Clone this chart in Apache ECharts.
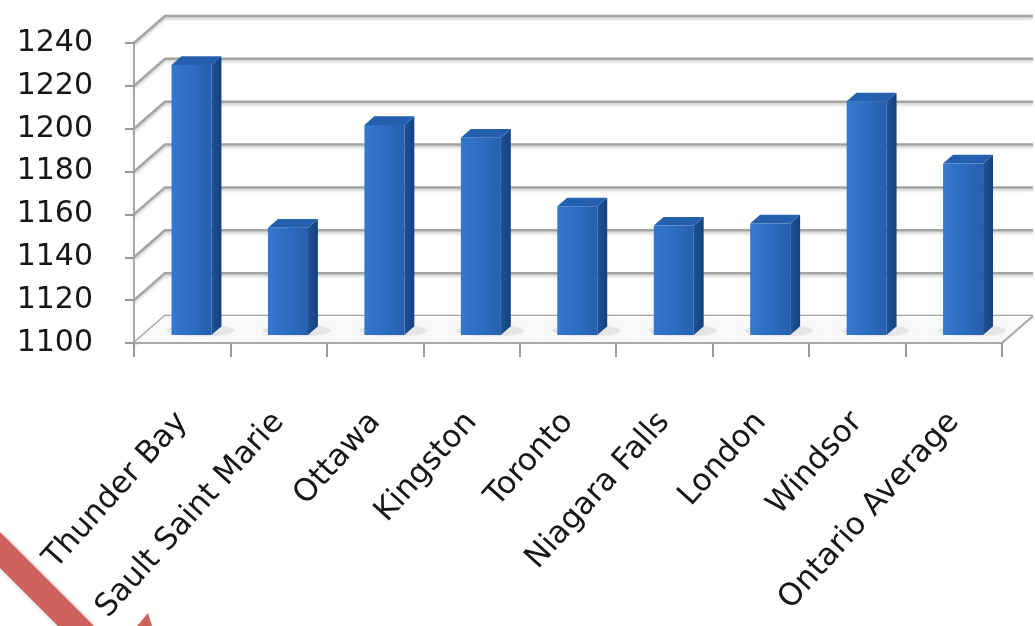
<!DOCTYPE html>
<html>
<head>
<meta charset="utf-8">
<script src="https://cdn.jsdelivr.net/npm/echarts@6/dist/echarts.min.js"></script>
<style>html,body{margin:0;padding:0;background:#fff}#c{width:1035px;height:626px}</style>
</head>
<body>
<div id="c"></div>
<script>
const categories = ['Thunder Bay','Sault Saint Marie','Ottawa','Kingston','Toronto','Niagara Falls','London','Windsor','Ontario Average'];
const values = [1226, 1150, 1198, 1192, 1160, 1151, 1152, 1209, 1180];
const yMin = 1100, yMax = 1240, yStep = 20;
const yTicks = [1100, 1120, 1140, 1160, 1180, 1200, 1220, 1240];

// depth vector of the 3D box (pixels) and bar depth placement
const DX = 31, DY = -27;
const D1 = 0.30, D2 = 0.62, BARW = 0.415;
const FONT = 'DejaVu Sans';

const chart = echarts.init(document.getElementById('c'), null, {renderer:'canvas'});

function wallItem(params, api) {
  const cs = params.coordSys;
  const y = api.coord([0, api.value(1)])[1];
  const x0 = cs.x, x1 = cs.x + cs.width;
  return {
    type: 'polyline',
    shape: { points: [[x0, y], [x0 + DX, y + DY], [x1 + DX, y + DY]] },
    style: { stroke: '#a4a4a4', lineWidth: 2.5, fill: null,
             shadowBlur: 3, shadowColor: 'rgba(0,0,0,0.22)', shadowOffsetY: 2 }
  };
}

function floorItem(params, api) {
  const cs = params.coordSys;
  const yb = api.coord([0, api.value(1)])[1];
  const x0 = cs.x, x1 = cs.x + cs.width;
  return {
    type: 'group',
    children: [
      { type: 'polygon',
        shape: { points: [[x0, yb], [x1, yb], [x1 + DX, yb + DY], [x0 + DX, yb + DY]] },
        style: { fill: '#fafafa' } },
      { type: 'line',
        shape: { x1: x1, y1: yb, x2: x1 + DX, y2: yb + DY },
        style: { stroke: '#a8a8a8', lineWidth: 2 } }
    ]
  };
}

function barItem(params, api) {
  const c = api.coord([api.value(0), api.value(1)]);
  const b = api.coord([api.value(0), yMin]);
  const w = api.size([1, 0])[0] * BARW;
  const ax = DX * D1, ay = DY * D1, bx = DX * D2, by = DY * D2;
  const xl = c[0] - w / 2 + ax, xr = c[0] + w / 2 + ax;
  const yt = c[1] + ay, yb = b[1] + ay;
  const dx = bx - ax, dy = by - ay;
  return {
    type: 'group',
    children: [
      { type: 'ellipse',
        shape: { cx: (xl + xr + dx) / 2 + 4, cy: yb + dy / 2, rx: w * 0.85, ry: 6 },
        style: { fill: 'rgba(90,90,90,0.10)', shadowBlur: 10, shadowColor: 'rgba(0,0,0,0.22)' } },
      { type: 'polygon',
        shape: { points: [[xr, yt], [xr + dx, yt + dy], [xr + dx, yb + dy], [xr, yb]] },
        style: { fill: new echarts.graphic.LinearGradient(0, 0, 1, 0, [
          { offset: 0, color: '#1d5297' }, { offset: 1, color: '#15427c' }]) } },
      { type: 'polygon',
        shape: { points: [[xl, yt], [xl + dx, yt + dy], [xr + dx, yt + dy], [xr, yt]] },
        style: { fill: '#2460ae' } },
      { type: 'rect',
        shape: { x: xl, y: yt, width: xr - xl, height: yb - yt },
        style: { fill: new echarts.graphic.LinearGradient(0, 0, 1, 0, [
          { offset: 0, color: '#3479cf' }, { offset: 0.5, color: '#2d6dc2' }, { offset: 1, color: '#275fad' }]) } }
    ]
  };
}

chart.setOption({
  animation: false,
  backgroundColor: '#ffffff',
  grid: { left: 134, right: 33, top: 43, bottom: 283, containLabel: false },
  xAxis: {
    type: 'category',
    data: categories,
    boundaryGap: true,
    z: 5,
    axisLine: { show: true, lineStyle: { color: '#a8a8a8', width: 2 } },
    axisTick: { show: true, length: 14, interval: 0, lineStyle: { color: '#9a9a9a', width: 2 } },
    axisLabel: { interval: 0, rotate: 48, margin: 74, fontSize: 31, fontFamily: FONT, color: '#161616' },
    splitLine: { show: false }
  },
  yAxis: {
    type: 'value',
    min: yMin, max: yMax, interval: yStep,
    z: 5,
    axisLine: { show: true, lineStyle: { color: '#a8a8a8', width: 2 } },
    axisTick: { show: true, length: 9, lineStyle: { color: '#9a9a9a', width: 2 } },
    axisLabel: { margin: 41, fontSize: 30, fontFamily: FONT, color: '#161616',
                 formatter: v => String(v) },
    splitLine: { show: false }
  },
  series: [
    { type: 'custom', name: 'walls', z: 1, clip: false, silent: true,
      renderItem: wallItem, data: yTicks.map(v => [0, v]) },
    { type: 'custom', name: 'floor', z: 2, clip: false, silent: true,
      renderItem: floorItem, data: [[0, yMin]] },
    { type: 'custom', name: 'bars', z: 3, clip: false,
      renderItem: barItem, data: values.map((v, i) => [i, v]) }
  ],
  graphic: [
    { type: 'polygon', z: 100,
      shape: { points: [[0, 532], [94, 626], [58, 626], [0, 568]] },
      style: { fill: '#cd625a', shadowBlur: 4, shadowColor: 'rgba(0,0,0,0.25)' } },
    { type: 'polygon', z: 100,
      shape: { points: [[137, 626], [148, 613], [152, 626]] },
      style: { fill: '#cd625a' } }
  ]
});
</script>
</body>
</html>
